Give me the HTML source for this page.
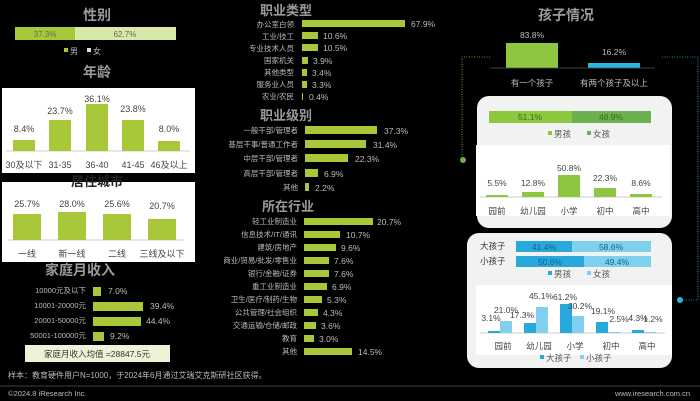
<!DOCTYPE html><html><head><meta charset="utf-8"><style>body{margin:0;background:#000}svg{display:block}text{font-family:"Liberation Sans","Noto Sans CJK SC",sans-serif}</style></head><body>
<svg width="700" height="401" viewBox="0 0 700 401" xmlns="http://www.w3.org/2000/svg">
<rect width="700" height="401" fill="#000"/>
<!-- LEFT -->
<g font-size="14" fill="#9a9a9a" text-anchor="middle" font-weight="bold">
<text x="97" y="20">性别</text><text x="97" y="77">年龄</text><text x="80" y="275" fill="#9a9a9a">家庭月收入</text></g>
<rect x="15" y="27" width="60" height="13" fill="#a8c83a"/><rect x="75" y="27" width="101" height="13" fill="#d8e8a8"/>
<g font-size="8" fill="#666" text-anchor="middle"><text x="45" y="37">37.3%</text><text x="125" y="37">62.7%</text></g>
<rect x="64" y="48" width="4" height="4" fill="#a8c83a"/><text x="70" y="54" font-size="8" fill="#bbb">男</text>
<rect x="87" y="48" width="4" height="4" fill="#ddd"/><text x="93" y="54" font-size="8" fill="#bbb">女</text>
<rect x="2" y="88" width="193" height="85" fill="#fff"/>
<line x1="6" y1="151" x2="190" y2="151" stroke="#bbb" stroke-width="0.7"/>
<g fill="#a8c83a"><rect x="13" y="140" width="22" height="11"/><rect x="49" y="120" width="22" height="31"/><rect x="86" y="104" width="22" height="47"/><rect x="122" y="120" width="22" height="31"/><rect x="158" y="141" width="22" height="10"/></g>
<g font-size="9" fill="#444" text-anchor="middle"><text x="24" y="132">8.4%</text><text x="60" y="114">23.7%</text><text x="97" y="102">36.1%</text><text x="133" y="112">23.8%</text><text x="169" y="132">8.0%</text>
<text x="24" y="168">30及以下</text><text x="60" y="168">31-35</text><text x="97" y="168">36-40</text><text x="133" y="168">41-45</text><text x="169" y="168">46及以上</text></g>
<rect x="2" y="182" width="193" height="80" fill="#fff"/>
<text x="97" y="186" font-size="13" fill="#222" text-anchor="middle" font-weight="bold">居住城市</text>
<line x1="8" y1="240" x2="184" y2="240" stroke="#bbb" stroke-width="0.7"/>
<g fill="#a8c83a"><rect x="13" y="214" width="28" height="26"/><rect x="58" y="212" width="28" height="28"/><rect x="103" y="214" width="28" height="26"/><rect x="148" y="219" width="28" height="21"/></g>
<g font-size="9" fill="#444" text-anchor="middle"><text x="27" y="207">25.7%</text><text x="72" y="207">28.0%</text><text x="117" y="207">25.6%</text><text x="162" y="209">20.7%</text>
<text x="27" y="257">一线</text><text x="72" y="257">新一线</text><text x="117" y="257">二线</text><text x="162" y="257">三线及以下</text></g>
<g font-size="7.5" fill="#bbb" text-anchor="end"><text x="86" y="293">10000元及以下</text><text x="86" y="308">10001-20000元</text><text x="86" y="323">20001-50000元</text><text x="86" y="338">50001-100000元</text></g>
<g fill="#a8c83a"><rect x="93" y="287" width="8" height="9"/><rect x="93" y="302" width="50" height="9"/><rect x="93" y="317" width="48" height="9"/><rect x="93" y="332" width="11" height="9"/></g>
<g font-size="8.5" fill="#bbb"><text x="108" y="294">7.0%</text><text x="150" y="309">39.4%</text><text x="146" y="324">44.4%</text><text x="110" y="339">9.2%</text></g>
<rect x="25" y="345" width="145" height="17" fill="#eef2d6"/>
<text x="97" y="357" font-size="8.5" fill="#333" text-anchor="middle">家庭月收入均值 =28847.5元</text>
<text x="8" y="378" font-size="8" fill="#bbb">样本：教育硬件用户N=1000，于2024年6月通过艾瑞艾克斯研社区获得。</text>
<line x1="0" y1="386" x2="700" y2="386" stroke="#555" stroke-width="0.7"/>
<text x="8" y="396" font-size="7.5" fill="#bbb">©2024.8 iResearch Inc.</text>
<text x="690" y="396" font-size="7.5" fill="#bbb" text-anchor="end">www.iresearch.com.cn</text>
<!-- MIDDLE -->
<g font-size="13" fill="#9a9a9a" text-anchor="middle" font-weight="bold"><text x="286" y="15">职业类型</text><text x="286" y="120">职业级别</text><text x="288" y="211">所在行业</text></g>
<g fill="#a8c83a">
<rect x="302" y="20" width="103" height="7"/><rect x="302" y="32" width="16" height="7"/><rect x="302" y="44" width="16" height="7"/><rect x="302" y="57" width="6" height="7"/><rect x="302" y="69" width="5" height="7"/><rect x="302" y="81" width="5" height="7"/><rect x="302" y="93" width="1" height="7"/>
<rect x="305" y="126" width="72" height="8"/><rect x="305" y="140" width="61" height="8"/><rect x="305" y="154" width="43" height="8"/><rect x="305" y="169" width="13" height="8"/><rect x="305" y="183" width="4" height="8"/>
<rect x="304" y="218" width="69" height="7"/><rect x="304" y="231" width="36" height="7"/><rect x="304" y="244" width="32" height="7"/><rect x="304" y="257" width="25" height="7"/><rect x="304" y="270" width="25" height="7"/><rect x="304" y="283" width="23" height="7"/><rect x="304" y="296" width="18" height="7"/><rect x="304" y="309" width="14" height="7"/><rect x="304" y="322" width="12" height="7"/><rect x="304" y="335" width="10" height="7"/><rect x="304" y="348" width="48" height="7"/>
</g>
<g font-size="7.5" fill="#bbb" text-anchor="end">
<text x="294" y="27">办公室白领</text><text x="294" y="39">工业/技工</text><text x="294" y="51">专业技术人员</text><text x="294" y="63">国家机关</text><text x="294" y="75">其他类型</text><text x="294" y="87">服务业人员</text><text x="294" y="99">农业/农民</text>
<text x="298" y="133">一般干部/管理者</text><text x="298" y="147">基层干事/普通工作者</text><text x="298" y="161">中层干部/管理者</text><text x="298" y="176">高层干部/管理者</text><text x="298" y="190">其他</text>
<text x="297" y="224">轻工业制造业</text><text x="297" y="237">信息技术/IT/通讯</text><text x="297" y="250">建筑/房地产</text><text x="297" y="263">商业/贸易/批发/零售业</text><text x="297" y="276">银行/金融/证券</text><text x="297" y="289">重工业制造业</text><text x="297" y="302">卫生/医疗/制药/生物</text><text x="297" y="315">公共管理/社会组织</text><text x="297" y="328">交通运输/仓储/邮政</text><text x="297" y="341">教育</text><text x="297" y="354">其他</text>
</g>
<g font-size="8.5" fill="#bbb">
<text x="411" y="27">67.9%</text><text x="323" y="39">10.6%</text><text x="323" y="51">10.5%</text><text x="313" y="64">3.9%</text><text x="312" y="76">3.4%</text><text x="312" y="88">3.3%</text><text x="309" y="100">0.4%</text>
<text x="384" y="134">37.3%</text><text x="373" y="148">31.4%</text><text x="355" y="162">22.3%</text><text x="324" y="177">6.9%</text><text x="315" y="191">2.2%</text>
<text x="377" y="225">20.7%</text><text x="346" y="238">10.7%</text><text x="341" y="251">9.6%</text><text x="334" y="264">7.6%</text><text x="334" y="277">7.6%</text><text x="332" y="290">6.9%</text><text x="327" y="303">5.3%</text><text x="323" y="316">4.3%</text><text x="321" y="329">3.6%</text><text x="319" y="342">3.0%</text><text x="358" y="355">14.5%</text>
</g>
<!-- RIGHT -->
<text x="566" y="20" font-size="14" fill="#9a9a9a" text-anchor="middle" font-weight="bold">孩子情况</text>
<rect x="506" y="43" width="52" height="25" fill="#8dc63f"/><rect x="588" y="63" width="52" height="5" fill="#29b6e0"/>
<line x1="490" y1="68" x2="655" y2="68" stroke="#555" stroke-width="0.7"/>
<g font-size="8.5" fill="#bbb" text-anchor="middle"><text x="532" y="38">83.8%</text><text x="614" y="55">16.2%</text><text x="532" y="86">有一个孩子</text><text x="614" y="86">有两个孩子及以上</text></g>
<path d="M462 160 V57 H490" stroke="#8dc63f" stroke-width="0.8" stroke-dasharray="1,1.5" fill="none"/>
<circle cx="463" cy="160" r="3" fill="#6ab04c"/>
<path d="M662 57 H698 V300 H680" stroke="#29b6e0" stroke-width="0.8" stroke-dasharray="1,1.5" fill="none"/>
<rect x="477" y="96" width="195" height="132" rx="12" fill="#f2f2f2"/>
<rect x="476" y="145" width="194" height="71" fill="#fff"/>
<rect x="489" y="111" width="83" height="12" fill="#8dc63f"/><rect x="572" y="111" width="79" height="12" fill="#6ab04c"/>
<g font-size="8.5" fill="#3a6a20" text-anchor="middle"><text x="530" y="120">51.1%</text><text x="611" y="120">48.9%</text></g>
<rect x="548" y="131" width="4" height="4" fill="#8dc63f"/><text x="554" y="137" font-size="8.5" fill="#555">男孩</text>
<rect x="587" y="131" width="4" height="4" fill="#6ab04c"/><text x="593" y="137" font-size="8.5" fill="#555">女孩</text>
<line x1="480" y1="197" x2="662" y2="197" stroke="#bbb" stroke-width="0.7"/>
<g fill="#8dc63f"><rect x="486" y="195" width="22" height="2"/><rect x="522" y="192" width="22" height="5"/><rect x="558" y="175" width="22" height="22"/><rect x="594" y="188" width="22" height="9"/><rect x="630" y="194" width="22" height="3"/></g>
<g font-size="8.5" fill="#444" text-anchor="middle"><text x="497" y="186">5.5%</text><text x="533" y="186">12.8%</text><text x="569" y="171">50.8%</text><text x="605" y="181">22.3%</text><text x="641" y="186">8.6%</text>
<text x="497" y="214">园前</text><text x="533" y="214">幼儿园</text><text x="569" y="214">小学</text><text x="605" y="214">初中</text><text x="641" y="214">高中</text></g>
<rect x="467" y="233" width="205" height="135" rx="12" fill="#f2f2f2"/>
<rect x="476" y="285" width="196" height="70" fill="#fff"/>
<g font-size="8.5" fill="#333"><text x="480" y="249">大孩子</text><text x="480" y="264">小孩子</text></g>
<rect x="516" y="241" width="56" height="11" fill="#29a8dc"/><rect x="572" y="241" width="79" height="11" fill="#7fd0ee"/>
<rect x="516" y="256" width="68" height="11" fill="#29a8dc"/><rect x="584" y="256" width="67" height="11" fill="#7fd0ee"/>
<g font-size="8.5" fill="#1a5f80" text-anchor="middle"><text x="544" y="250">41.4%</text><text x="611" y="250">58.6%</text><text x="550" y="265">50.6%</text><text x="617" y="265">49.4%</text></g>
<rect x="548" y="271" width="4" height="4" fill="#29a8dc"/><text x="554" y="277" font-size="8.5" fill="#555">男孩</text>
<rect x="587" y="271" width="4" height="4" fill="#7fd0ee"/><text x="593" y="277" font-size="8.5" fill="#555">女孩</text>
<line x1="480" y1="333" x2="665" y2="333" stroke="#bbb" stroke-width="0.7"/>
<g fill="#29a8dc"><rect x="488" y="331" width="12" height="2"/><rect x="524" y="323" width="12" height="10"/><rect x="560" y="304" width="12" height="29"/><rect x="596" y="322" width="12" height="11"/><rect x="632" y="330" width="12" height="3"/></g>
<g fill="#7fd0ee"><rect x="500" y="321" width="12" height="12"/><rect x="536" y="307" width="12" height="26"/><rect x="572" y="316" width="12" height="17"/><rect x="608" y="332" width="12" height="1"/><rect x="644" y="332" width="12" height="1"/></g>
<g font-size="8.5" fill="#444" text-anchor="middle"><text x="491" y="321">3.1%</text><text x="506" y="313">21.0%</text><text x="522" y="318">17.3%</text><text x="541" y="299">45.1%</text><text x="565" y="300">61.2%</text><text x="580" y="309">30.2%</text><text x="603" y="314">19.1%</text><text x="619" y="322">2.5%</text><text x="638" y="321">4.3%</text><text x="653" y="322">1.2%</text>
<text x="503" y="349">园前</text><text x="539" y="349">幼儿园</text><text x="575" y="349">小学</text><text x="611" y="349">初中</text><text x="647" y="349">高中</text></g>
<rect x="540" y="355" width="4" height="4" fill="#29a8dc"/><text x="546" y="361" font-size="8.5" fill="#555">大孩子</text>
<rect x="580" y="355" width="4" height="4" fill="#7fd0ee"/><text x="586" y="361" font-size="8.5" fill="#555">小孩子</text>
<circle cx="680" cy="300" r="3" fill="#29b6e0"/>
</svg></body></html>
